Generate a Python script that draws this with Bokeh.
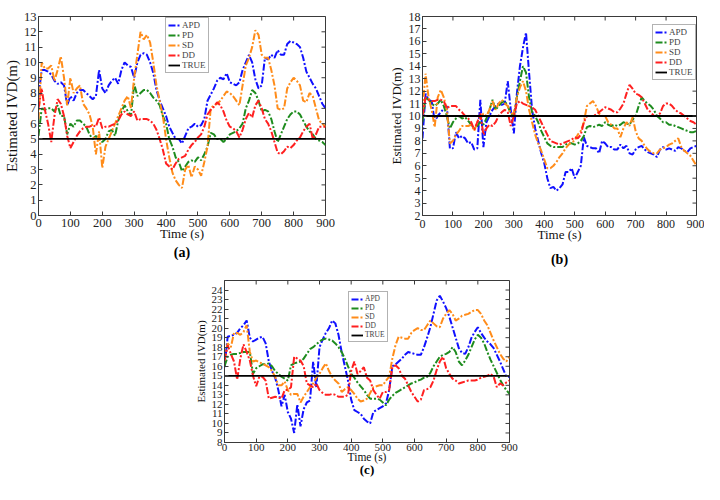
import math
from bokeh.plotting import figure
from bokeh.models import FixedTicker, Range1d, Legend, LegendItem, LinearAxis, Spacer
from bokeh.layouts import row, column
from bokeh.embed import file_html
from bokeh.resources import INLINE

TIME = list(range(0, 901, 10))
X_TICKS = list(range(0, 901, 100))
SERIES = ["APD", "PD", "SD", "DD"]
TRUE_LABEL = "TRUE"

# ---------------- (a) ----------------
APD_A = [7.8, 9.5, 9.5, 9.4, 9.2, 8.8, 8.6, 8.7, 8.5, 7.2,
         7.8, 7.5, 8.0, 8.2, 8.2, 8.0, 7.8, 7.6, 7.8, 9.5,
         8.3, 8.0, 8.5, 8.8, 9.0, 8.6, 9.5, 10.0, 9.8, 9.7,
         9.0, 10.0, 10.5, 10.6, 10.5, 10.0, 9.3, 8.2, 7.5, 7.0,
         6.5, 5.8, 5.4, 5.0, 5.0, 4.7, 5.2, 5.7, 5.8, 6.0,
         5.8, 5.9, 6.3, 7.5, 7.9, 8.3, 8.8, 9.0, 8.9, 9.3,
         8.7, 8.6, 8.5, 8.7, 9.5, 10.0, 10.5, 10.0, 8.9, 8.3,
         8.5, 10.3, 10.2, 10.5, 10.3, 10.8, 10.5, 10.5, 11.2, 11.4,
         11.3, 11.2, 11.0, 10.3, 9.4, 9.0, 8.6, 8.3, 7.8, 7.3,
         7.0]
PD_A = [5.2, 7.0, 6.9, 7.0, 7.0, 6.8, 7.2, 6.5, 6.5, 5.3,
        6.0, 5.8, 6.2, 6.2, 6.0, 5.8, 5.3, 5.0, 5.2, 5.0,
        4.8, 5.0, 5.5, 5.6, 5.2, 6.2, 6.8, 7.2, 6.8, 6.5,
        8.6, 7.8, 8.0, 8.2, 8.2, 8.0, 7.7, 7.5, 7.2, 6.5,
        6.0, 5.0, 4.5, 3.8, 3.5, 2.9, 3.2, 3.5, 3.6, 3.5,
        3.8, 3.6, 4.0, 4.5, 5.4, 5.3, 5.0, 5.0, 4.8, 5.0,
        5.3, 5.4, 5.5, 5.7, 6.0, 7.0, 7.5, 8.2, 8.0, 7.5,
        6.8, 6.9, 6.8, 6.3, 5.5, 4.8, 5.3, 5.8, 6.3, 6.6,
        6.8, 6.8, 6.6, 6.2, 5.8, 5.5, 5.3, 5.0, 4.9, 4.8,
        4.6]
SD_A = [6.3, 10.0, 9.6, 9.6, 9.8, 8.8, 9.5, 10.4, 9.0, 7.2,
        9.0, 8.0, 8.3, 8.5, 7.3, 7.0, 6.6, 5.8, 4.0, 5.5,
        3.1, 4.5, 5.0, 5.5, 6.0, 6.5, 7.0, 7.5, 7.8, 7.0,
        9.0, 10.5, 12.0, 11.5, 11.8, 11.3, 10.0, 8.5, 7.5, 6.5,
        5.0, 3.8, 2.8, 2.3, 2.0, 1.8, 3.0, 3.3, 2.5, 3.2,
        3.0, 2.6, 3.5, 4.5, 7.0, 7.2, 7.3, 7.5, 7.8, 8.1,
        8.0, 7.8, 7.5, 7.2, 8.5, 9.8, 10.3, 11.0, 12.1, 11.8,
        10.5, 10.3, 10.3, 9.5, 8.5, 7.0, 6.9, 7.0, 8.3, 8.7,
        9.0, 8.8, 8.5, 7.5, 7.4, 8.0, 7.8, 7.0, 6.2, 6.0,
        5.8]
DD_A = [7.0, 8.3, 6.9, 6.0, 4.8, 6.5, 7.6, 7.3, 6.5, 5.2,
        4.4, 4.8, 5.2, 5.5, 5.7, 5.8, 5.8, 5.9, 5.8, 6.4,
        5.7, 5.8, 5.8, 5.9, 6.0, 6.2, 6.6, 6.8, 6.6, 6.5,
        6.8, 6.2, 6.3, 6.3, 6.3, 6.2, 6.0, 5.6, 5.0, 4.3,
        3.4, 3.2, 3.0, 3.4, 3.7, 3.8, 3.9, 4.3, 4.6, 4.8,
        5.1, 5.3, 5.8, 6.6, 6.9, 7.1, 7.4, 7.2, 6.8, 6.2,
        5.8, 5.7, 5.5, 5.1, 5.6, 6.3, 6.7, 6.4, 7.2, 7.5,
        7.0, 6.3, 6.0, 5.5, 4.8, 4.1, 4.0, 4.2, 4.5, 4.4,
        4.6, 4.9, 5.1, 5.5, 5.8, 6.0, 5.0, 5.3, 5.8, 5.8,
        5.8]
TRUE_A = 5

# ---------------- (b) ----------------
APD_B = [8.2, 11.8, 11.3, 11.2, 9.6, 10.0, 10.3, 10.6, 10.8, 7.4,
         7.4, 8.7, 8.2, 8.4, 8.2, 7.8, 7.9, 7.3, 7.4, 11.3,
         7.5, 9.5, 10.0, 10.5, 10.8, 11.0, 10.9, 11.0, 12.8, 10.5,
         8.6, 11.8, 14.0, 15.5, 16.7, 13.5, 10.5, 9.0, 8.0, 7.0,
         6.2, 5.0, 4.2, 4.3, 4.0, 4.2, 4.5, 5.5, 5.5, 5.8,
         5.0, 5.5, 6.0, 8.3, 7.6, 7.5, 7.4, 7.4, 7.0, 8.0,
         7.8, 7.5, 7.5, 7.3, 7.3, 7.7, 7.4, 7.6, 7.0, 6.9,
         7.3, 7.5, 7.6, 7.3, 7.1, 7.0, 6.9, 6.7, 7.3, 7.5,
         7.3, 7.4, 7.3, 7.2, 7.5, 7.4, 7.2, 7.1, 7.4, 7.5,
         7.6]
PD_B = [9.5, 11.5, 11.3, 11.0, 10.8, 11.0, 11.3, 10.8, 10.0, 9.0,
        9.5, 9.8, 10.0, 9.8, 9.9, 9.6, 9.3, 9.0, 9.2, 9.5,
        9.3, 9.8, 10.5, 11.3, 10.5, 10.8, 11.1, 11.2, 10.8, 10.2,
        10.0, 11.5, 12.8, 14.0, 13.5, 11.5, 10.3, 10.0, 9.5, 8.8,
        8.3, 7.8, 7.6, 7.5, 7.5, 7.5, 7.5, 7.7, 7.8, 7.8,
        7.7, 7.8, 8.0, 8.4, 9.1, 9.2, 9.1, 9.2, 9.3, 9.2,
        9.5, 9.3, 9.2, 9.3, 9.2, 9.3, 9.5, 9.4, 9.3, 9.7,
        10.0, 10.8, 11.5, 11.2, 11.0, 10.8, 10.5, 10.0, 9.8, 9.5,
        9.5, 9.3, 9.3, 9.2, 9.1, 9.0, 8.9, 8.8, 8.7, 8.7,
        8.8]
SD_B = [10.5, 13.4, 11.5, 10.5, 9.1, 11.5, 12.1, 11.5, 10.5, 7.8,
        8.0, 8.5, 8.8, 9.2, 9.2, 9.2, 9.3, 8.8, 9.5, 9.8,
        10.2, 10.0, 10.5, 11.2, 10.5, 11.0, 11.3, 11.0, 10.8, 10.2,
        10.2, 11.5, 12.3, 12.8, 12.0, 10.5, 9.5, 8.5, 7.8, 7.2,
        6.5, 5.8, 5.8, 6.0, 6.3, 6.7, 7.0, 7.4, 7.7, 7.9,
        8.0, 8.5, 8.8, 9.5, 10.8, 11.0, 11.2, 10.8, 10.2, 10.0,
        10.0, 9.5, 9.3, 9.0, 9.0, 8.3, 9.0, 9.5, 9.2, 9.9,
        8.8, 8.2, 8.0, 7.6, 7.3, 7.1, 7.0, 7.0, 7.3, 7.4,
        7.5, 7.7, 7.8, 8.0, 8.2, 7.5, 7.2, 7.0, 6.8, 6.4,
        6.0]
DD_B = [10.0, 11.5, 11.3, 11.2, 11.2, 11.3, 11.3, 11.2, 10.6, 10.8,
        10.8, 10.8, 10.5, 10.3, 10.0, 9.8, 9.5, 8.9, 9.5, 10.2,
        8.5, 9.0, 9.3, 9.2, 9.5, 10.0, 10.3, 10.5, 10.3, 9.2,
        10.0, 11.0, 11.2, 11.0, 10.9, 10.8, 10.7, 10.5, 10.0, 9.5,
        9.0, 8.5, 8.0, 7.9, 7.8, 7.7, 7.8, 7.9, 8.0, 8.1,
        8.3, 8.2, 8.5, 9.5, 10.0, 10.0, 10.0, 10.1, 10.3, 10.5,
        10.7, 10.6, 10.5, 10.3, 10.3, 10.6, 11.0, 11.8, 12.5, 12.2,
        11.8, 11.7, 11.5, 11.0, 10.5, 10.3, 10.0, 10.0, 10.2, 10.8,
        11.0, 11.0, 10.8, 10.5, 10.3, 10.2, 10.0, 9.8, 9.6, 9.5,
        9.3]
TRUE_B = 10

# ---------------- (c) ----------------
APD_C = [15.9, 19.1, 19.2, 19.3, 19.5, 20.0, 20.3, 20.8, 19.0, 18.6,
         18.8, 19.0, 19.1, 18.4, 16.5, 15.5, 14.8, 13.5, 11.8, 13.0,
         11.2, 10.5, 9.0, 12.0, 9.7, 11.5, 12.2, 12.4, 16.5, 13.8,
         18.0, 18.8, 19.5, 20.0, 20.8, 20.5, 19.3, 17.5, 16.0, 14.5,
         12.5, 11.4, 11.2, 11.0, 10.5, 10.2, 10.0, 11.2, 11.4, 11.6,
         11.8, 12.1, 13.5, 16.0, 16.2, 16.5, 16.8, 17.2, 17.5, 17.4,
         17.3, 17.2, 17.2, 18.0, 19.0, 20.1, 21.5, 22.9, 23.4, 22.8,
         22.1, 21.2, 20.1, 19.0, 17.9, 17.4, 17.3, 18.0, 19.0, 19.6,
         20.1, 19.5, 19.0, 18.6, 18.3, 17.9, 17.2, 16.5, 15.7, 14.9,
         14.9]
PD_C = [16.0, 17.0, 17.2, 17.3, 17.3, 17.4, 17.5, 17.5, 17.5, 15.2,
        15.8, 16.0, 16.2, 16.2, 16.3, 16.0, 15.5, 15.2, 14.9, 14.7,
        14.5, 16.1, 16.3, 16.4, 16.5, 16.8, 17.3, 17.8, 18.0, 18.3,
        18.6, 18.8, 18.9, 18.8, 18.7, 18.4, 18.0, 17.5, 16.8, 16.0,
        15.2, 14.8, 14.3, 13.9, 13.5, 13.0, 12.6, 12.6, 12.6, 12.5,
        12.2, 11.9, 12.5, 12.9, 13.2, 13.4, 13.6, 13.8, 14.0, 14.2,
        14.3, 14.5, 14.6, 14.8, 14.9, 15.3, 16.0, 16.5, 17.0, 17.2,
        17.3, 17.5, 18.0, 17.5, 16.5, 16.1, 16.6, 17.2, 18.0, 18.8,
        19.3, 19.0, 18.4, 17.5, 16.7, 16.0, 15.3, 14.6, 14.0, 13.5,
        13.1]
SD_C = [16.6, 18.4, 18.0, 19.5, 19.5, 19.3, 19.6, 20.3, 17.5, 16.5,
        16.6, 16.4, 16.3, 16.1, 15.9, 15.5, 14.9, 14.0, 14.0, 14.4,
        13.5, 13.0, 13.1, 13.1, 12.2, 12.8, 13.3, 13.8, 14.2, 14.8,
        15.2, 15.8, 16.3, 15.5, 14.9, 14.5, 14.2, 13.3, 13.6, 13.8,
        13.5, 13.1, 12.6, 12.3, 12.4, 12.6, 13.2, 13.8, 13.9, 14.0,
        14.0, 14.5, 14.9, 16.8, 18.2, 19.1, 19.0, 18.9, 18.9, 19.5,
        19.8, 20.0, 19.8, 19.8, 20.3, 20.8, 20.5, 20.2, 20.1, 21.0,
        21.5, 21.9, 21.5, 20.8, 21.0, 21.3, 21.4, 21.5, 21.7, 21.9,
        21.9, 21.5, 20.8, 20.3, 19.5, 18.7, 18.0, 17.3, 16.8, 16.5,
        17.0]
DD_C = [16.6, 18.2, 17.3, 16.5, 14.6, 16.8, 18.3, 17.5, 16.6, 15.0,
        13.9, 14.9, 14.9, 14.5, 12.6, 12.7, 12.8, 12.7, 12.6, 13.5,
        13.5, 13.8, 17.0, 16.8, 16.6, 16.0, 14.2, 14.0, 13.8, 14.2,
        13.5, 13.2, 13.0, 13.0, 13.1, 13.0, 12.8, 12.8, 12.8, 13.0,
        15.5, 16.5, 15.2, 15.5, 15.9, 14.8, 14.5, 13.5, 13.0, 12.6,
        13.3, 13.3, 13.5, 15.9, 16.1, 15.8, 15.0, 14.7, 14.0, 13.3,
        12.8, 12.3, 12.5, 13.5, 13.6, 13.8, 14.5, 15.6, 16.5, 17.0,
        15.8, 15.2, 14.7, 14.5, 14.2, 14.3, 14.4, 14.5, 14.5, 14.5,
        14.6, 14.8, 14.9, 15.0, 15.2, 14.9, 13.8, 14.2, 14.0, 14.3,
        14.5]
TRUE_C = 15

COLORS = {"APD": "#1010FF", "PD": "#1E8C1E", "SD": "#FF8C1A", "DD": "#FF2020"}
FONT = "Liberation Serif"
AXIS_COLOR = "#3a3a3a"


def panel(series, true_val, yr, yticks, label, w, h, borders, fs, stand, leg):
    left, right, top, bottom = borders
    p = figure(width=w, height=h, x_range=Range1d(X_TICKS[0], X_TICKS[-1]),
               y_range=Range1d(*yr),
               output_backend="svg", toolbar_location=None, title=None,
               min_border_left=left, min_border_right=right,
               min_border_top=top, min_border_bottom=bottom)
    p.xgrid.visible = False
    p.ygrid.visible = False
    p.outline_line_color = AXIS_COLOR
    p.background_fill_color = "white"
    p.border_fill_color = "white"

    items = []
    for name in SERIES:
        r = p.line(TIME, series[name], line_color=COLORS[name], line_width=2.0,
                   line_dash="7 2 2 2")
        items.append(LegendItem(label=name, renderers=[r]))
    rt = p.line(TIME, [true_val] * len(TIME), line_color="black", line_width=1.8)
    items.append(LegendItem(label=TRUE_LABEL, renderers=[rt]))

    # inward ticks on the top and right edges of the box
    p.scatter(X_TICKS, [yr[1]] * len(X_TICKS), marker="dash", size=8,
              angle=math.pi / 2, line_color=AXIS_COLOR, line_width=1)
    p.scatter([X_TICKS[-1]] * len(yticks), yticks, marker="dash", size=8,
              line_color=AXIS_COLOR, line_width=1)

    tick_fs, ylab_fs, xlab_fs, tit_fs, leg_fs, row_h = fs
    for ax, ticks in ((p.xaxis[0], X_TICKS), (p.yaxis[0], yticks)):
        ax.ticker = FixedTicker(ticks=ticks)
        ax.major_tick_in = 4
        ax.major_tick_out = 0
        ax.minor_tick_line_color = None
        ax.axis_line_color = AXIS_COLOR
        ax.major_tick_line_color = AXIS_COLOR
        ax.major_label_text_font = FONT
        ax.major_label_text_font_size = tick_fs
        ax.major_label_text_color = "#222222"
        ax.axis_label_text_font = FONT
        ax.axis_label_text_font_style = "normal"
        ax.axis_label_text_color = "#111111"
    x_std, xl_std, lab_std, y_std, yl_std = stand
    p.xaxis[0].axis_label = "Time (s)"
    p.xaxis[0].axis_label_text_font_size = xlab_fs
    p.xaxis[0].major_label_standoff = x_std
    p.xaxis[0].axis_label_standoff = xl_std
    p.yaxis[0].axis_label = "Estimated IVD(m)"
    p.yaxis[0].axis_label_text_font_size = ylab_fs
    p.yaxis[0].major_label_standoff = y_std
    p.yaxis[0].axis_label_standoff = yl_std

    # sub-figure caption "(a)" etc. as a tick-less axis label below "Time (s)"
    cap = LinearAxis(ticker=FixedTicker(ticks=[]), axis_label=label,
                     axis_label_text_font=FONT, axis_label_text_font_size=tit_fs,
                     axis_label_text_font_style="bold", axis_label_text_color="black",
                     axis_label_standoff=lab_std, major_label_standoff=0,
                     major_tick_in=0, major_tick_out=0,
                     axis_line_color=None, major_tick_line_color=None,
                     minor_tick_line_color=None)
    p.add_layout(cap, "below")

    legend = Legend(items=items, location=leg, label_text_font=FONT,
                    label_text_font_size=leg_fs, label_height=row_h, glyph_height=row_h,
                    glyph_width=12, label_standoff=2, spacing=0, padding=2, margin=0,
                    border_line_color="#666666", background_fill_alpha=1.0)
    p.add_layout(legend)
    return p


pa = panel({"APD": APD_A, "PD": PD_A, "SD": SD_A, "DD": DD_A}, TRUE_A, (0, 13),
           list(range(0, 14)), "(a)", 349, 274, (35, 24, 12, 53),
           ("12.5px", "15px", "13px", "14px", "9px", 10), (3, -4, 1, 2, 1), (127, 142))
pb = panel({"APD": APD_B, "PD": PD_B, "SD": SD_B, "DD": DD_B}, TRUE_B, (2, 18),
           list(range(2, 19)), "(b)", 355, 274, (73, 8, 16, 59),
           ("12px", "13px", "13px", "14px", "9px", 10), (4, -4, 7, 2, 2), (230, 135))
pc = panel({"APD": APD_C, "PD": PD_C, "SD": SD_C, "DD": DD_C}, TRUE_C, (8, 25),
           list(range(8, 25)), "(c)", 340, 210, (42, 13, 6, 42),
           ("11px", "11px", "11.5px", "13px", "7.5px", 8), (1, -3, -4, 2, 2), (124, 100))

layout = column(row(pa, pb), row(Spacer(width=182, height=210), pc))

open("out.html", "w").write(file_html(layout, INLINE))
